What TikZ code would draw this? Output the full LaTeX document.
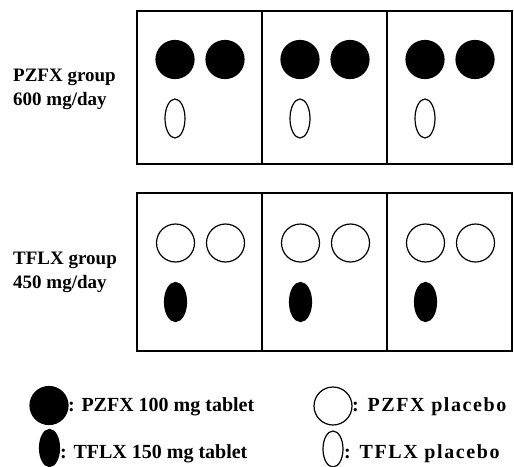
\documentclass[tikz,border=0pt]{standalone}
\usepackage{fontspec}
\setmainfont{Liberation Serif}
\newfontfamily\legwide[LetterSpace=8]{Liberation Serif}
\usetikzlibrary{shapes.geometric}
\begin{document}
\begin{tikzpicture}[x=1pt,y=-1pt,
  panel/.style={draw, line width=1.1pt, inner sep=0pt, outer sep=0pt, minimum width=125pt},
  pill/.style={circle, draw, line width=1.2pt, minimum size=38pt, inner sep=0pt},
  fullpill/.style={pill, fill=black},
  oval/.style={ellipse, draw, line width=1.2pt, minimum width=20pt, minimum height=39pt, inner sep=0pt},
  fulloval/.style={oval, fill=black},
  lab/.style={anchor=base west, inner sep=0pt, font=\bfseries\fontsize{19}{22}\selectfont},
  leg/.style={anchor=base west, inner sep=0pt, font=\bfseries\fontsize{20}{23}\selectfont},
  legw/.style={anchor=base west, inner sep=0pt, font=\legwide\bfseries\fontsize{20}{23}\selectfont}]
\useasboundingbox (0,0) rectangle (514,466);
% panels
\foreach \k in {0,1,2}{
  \node[panel, minimum height=153pt] (top\k) at (199.5+125*\k,87.5) {};
  \node[panel, minimum height=158pt] (bot\k) at (199.5+125*\k,272) {};
  \node[fullpill] (ta\k) at (175+125*\k,59.5) {};
  \node[fullpill] (tb\k) at (225+125*\k,59.5) {};
  \node[oval] (tc\k) at (175+125*\k,118.5) {};
  \node[pill] (ba\k) at (175.5+125*\k,243) {};
  \node[pill] (bb\k) at (225.5+125*\k,243) {};
  \node[fulloval, minimum width=22pt] (bc\k) at (175.5+125*\k,302) {};
}
% group labels
\node[lab] (g1a) at (13,81) {PZFX group};
\node[lab] (g1b) at (13,105) {600 mg/day};
\node[lab] (g2a) at (13,264) {TFLX group};
\node[lab] (g2b) at (13,288) {450 mg/day};
% legend
\node[fullpill] (l1) at (49,405.5) {};
\node[leg] (l1t) at (68,411) {: PZFX 100 mg tablet};
\node[fulloval, minimum height=37pt] (l2) at (49.5,448) {};
\node[leg] (l2t) at (60,458) {: TFLX 150 mg tablet};
\node[pill] (l3) at (333,406) {};
\node[legw] (l3t) at (352,411) {: PZFX placebo};
\node[oval, minimum height=36pt] (l4) at (333,449) {};
\node[legw] (l4t) at (344,458) {: TFLX placebo};
\end{tikzpicture}
\end{document}
